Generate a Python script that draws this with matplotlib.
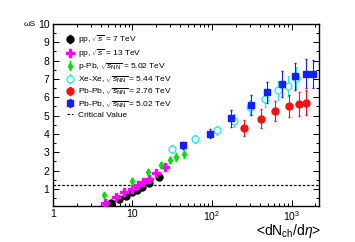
import numpy as np
import matplotlib
matplotlib.use("Agg")
import matplotlib.pyplot as plt
from matplotlib.ticker import LogLocator, MultipleLocator, NullFormatter, FixedLocator

plt.rcParams['font.family'] = ['Liberation Sans', 'DejaVu Sans']
plt.rcParams['mathtext.fontset'] = 'custom'
plt.rcParams['mathtext.rm'] = 'Liberation Sans'
plt.rcParams['mathtext.it'] = 'Liberation Sans:italic'

# pp 7 TeV
pp7_x = [5.3, 6.7, 8.4, 9.96, 11.5, 13.3, 16.1, 21.4]
pp7_y = [0.22, 0.44, 0.63, 0.82, 0.95, 1.09, 1.34, 1.67]
pp7_e = [0.03, 0.03, 0.04, 0.04, 0.05, 0.05, 0.06, 0.07]

# pp 13 TeV
pp13_x = [4.47, 6.15, 7.8, 9.86, 11.7, 13.6, 16.0, 19.8, 25.4]
pp13_y = [0.24, 0.58, 0.82, 1.02, 1.20, 1.37, 1.56, 1.86, 2.19]
pp13_e = [0.03, 0.04, 0.04, 0.05, 0.05, 0.06, 0.06, 0.07, 0.08]

# p-Pb 5.02 TeV
ppb_x = [4.4, 9.8, 15.8, 22.8, 30.0, 35.7, 44.0]
ppb_y = [0.69, 1.45, 1.91, 2.29, 2.57, 2.74, 2.90]
ppb_e = [0.10, 0.12, 0.15, 0.17, 0.18, 0.20, 0.20]

# Xe-Xe 5.44 TeV
xe_x = [31.4, 62.0, 116, 191, 300, 460, 677, 904, 1130]
xe_y = [3.17, 3.73, 4.20, 4.73, 5.45, 5.92, 6.37, 6.62, 7.06]
xe_e = [0.20, 0.22, 0.25, 0.35, 0.40, 0.45, 0.50, 0.55, 0.60]

# Pb-Pb 2.76 TeV
pb276_x = [253, 410, 627, 942, 1232, 1540]
pb276_y = [4.32, 4.84, 5.26, 5.50, 5.63, 5.70]
pb276_e = [0.45, 0.50, 0.55, 0.60, 0.65, 0.68]

# Pb-Pb 5.02 TeV
pb502_x = [43, 93.5, 175, 307, 492, 760, 1120, 1524, 1864]
pb502_y = [3.37, 4.00, 4.85, 5.57, 6.26, 6.72, 7.14, 7.28, 7.28]
pb502_e = [0.20, 0.25, 0.45, 0.55, 0.60, 0.70, 0.75, 0.80, 0.75]

critical = 1.2

fig = plt.figure(figsize=(3.55, 2.42), dpi=100)
ax = fig.add_axes([0.149, 0.149, 0.749, 0.752])

h = []
h.append(ax.errorbar(pp7_x, pp7_y, yerr=pp7_e, fmt='o', color='black', ms=5, lw=0.8,
                     capsize=1, label=r'pp, $\sqrt{s}$ = 7 TeV', zorder=3))
h.append(ax.errorbar(pp13_x, pp13_y, yerr=pp13_e, fmt='P', color='#ff00ff', ms=5.5, lw=0.8,
                     capsize=1, label=r'pp, $\sqrt{s}$ = 13 TeV', zorder=3))
h.append(ax.errorbar(ppb_x, ppb_y, yerr=ppb_e, fmt='d', color='#00e000', ms=3.5, lw=0.8,
                     capsize=1, label=r'p-Pb, $\sqrt{s_{\rm NN}}$ = 5.02 TeV', zorder=3))
h.append(ax.errorbar(xe_x, xe_y, yerr=xe_e, fmt='o', color='#22e5f0', mfc='white', ms=5, lw=0.8,
                     mew=0.9, capsize=1, label=r'Xe-Xe, $\sqrt{s_{\rm NN}}$ = 5.44 TeV', zorder=3))
h.append(ax.errorbar(pb276_x, pb276_y, yerr=pb276_e, fmt='o', color='#ff1010', ms=5, lw=0.8,
                     capsize=1, label=r'Pb-Pb, $\sqrt{s_{\rm NN}}$ = 2.76 TeV', zorder=3))
h.append(ax.errorbar(pb502_x, pb502_y, yerr=pb502_e, fmt='s', color='#1020ff', ms=5, lw=0.8,
                     capsize=1, label=r'Pb-Pb, $\sqrt{s_{\rm NN}}$ = 5.02 TeV', zorder=4))
h.append(ax.axhline(critical, color='black', ls=(0, (2, 1.5)), lw=0.9, label='Critical Value'))

ax.set_xscale('log')
ax.set_xlim(1, 2200)
ax.set_ylim(0.07, 10)

ax.xaxis.set_major_locator(FixedLocator([1, 10, 100, 1000]))
ax.set_xticklabels(['1', '10', r'$10^2$', r'$10^3$'])
ax.xaxis.set_minor_locator(LogLocator(base=10, subs=np.arange(2, 10)))
ax.xaxis.set_minor_formatter(NullFormatter())
ax.yaxis.set_major_locator(FixedLocator(range(1, 11)))
ax.yaxis.set_minor_locator(MultipleLocator(0.5))
ax.tick_params(which='both', direction='in', top=True, right=True, labelsize=7.5, width=0.7)
ax.tick_params(which='major', length=4, pad=2.5)
ax.tick_params(which='minor', length=2)
for s in ax.spines.values():
    s.set_linewidth(1.0)

ax.legend(handles=h, loc='upper left', fontsize=6.0, frameon=False, handlelength=0.8,
          handletextpad=0.5, labelspacing=0.17, borderaxespad=0.3,
          bbox_to_anchor=(0.03, 0.98))

fig.text(0.905, 0.045, r'<dN$_{\rm ch}$/d$\eta$>', ha='right', va='center', fontsize=10)
fig.text(0.10, 0.90, 'ωS', ha='right', va='center', fontsize=6)

fig.savefig('out.png', dpi=100)
